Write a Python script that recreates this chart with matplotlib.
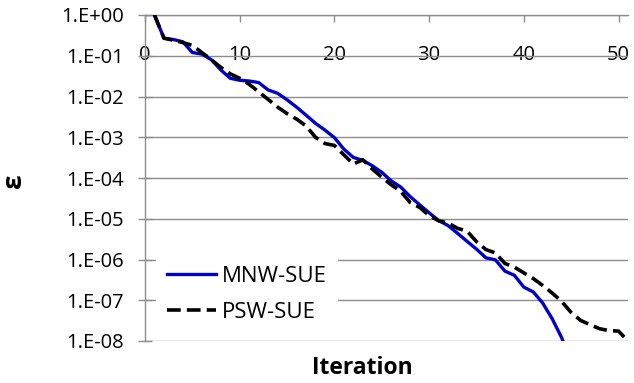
import numpy as np
import matplotlib
matplotlib.use("Agg")
import matplotlib.pyplot as plt
from matplotlib.ticker import FixedLocator, NullLocator

# convergence gap per iteration
iters_mnw = list(range(1, 46))
gap_mnw = [1.0, 0.27, 0.25, 0.22, 0.12, 0.11, 0.08, 0.045, 0.028, 0.025,
           0.024, 0.022, 0.0145, 0.012, 0.0083, 0.0055, 0.0035, 0.0022, 0.0015, 0.00098,
           0.00051, 0.00032, 0.00027, 0.0002, 0.000138, 8.5e-5, 6e-5, 3.5e-5, 2.2e-5, 1.4e-5,
           9.1e-6, 6.8e-6, 4.4e-6, 2.8e-6, 1.8e-6, 1.1e-6, 9.8e-7, 5.2e-7, 4.1e-7, 2.1e-7,
           1.6e-7, 8.5e-8, 3.5e-8, 1.2e-8, 3e-9]

iters_psw = list(range(1, 52))
gap_psw = [1.0, 0.27, 0.24, 0.21, 0.18, 0.12, 0.08, 0.052, 0.036, 0.028,
           0.02, 0.013, 0.0085, 0.0055, 0.0038, 0.0028, 0.0019, 0.001, 0.0007, 0.00063,
           0.00037, 0.00022, 0.00028, 0.000166, 0.000105, 6.8e-5, 4.7e-5, 2.5e-5, 1.9e-5, 1.2e-5,
           8.9e-6, 7.9e-6, 5.8e-6, 5e-6, 2.75e-6, 1.75e-6, 1.45e-6, 8e-7, 6.5e-7, 4.7e-7,
           3.4e-7, 2.3e-7, 1.5e-7, 9.3e-8, 5e-8, 3.2e-8, 2.5e-8, 2e-8, 1.8e-8, 1.75e-8,
           1e-8]

xticks = [0, 10, 20, 30, 40, 50]
yticks = [10.0 ** -k for k in range(0, 9)]
ytick_labels = ["1.E+00", "1.E-01", "1.E-02", "1.E-03", "1.E-04",
                "1.E-05", "1.E-06", "1.E-07", "1.E-08"]

plt.rcParams['font.family'] = ['Open Sans', 'DejaVu Sans']
W, H = 634, 383
fig = plt.figure(figsize=(W / 100, H / 100), dpi=100)
ax = fig.add_axes([145 / W, 1 - 341 / H, (628 - 145) / W, (341 - 15) / H])

grid_c = '#8c8c8c'
ax.plot(iters_mnw, gap_mnw, color='#0000cc', lw=2.4, label='MNW-SUE', zorder=3)
ax.plot(iters_psw, gap_psw, color='black', lw=2.6, ls=(0, (3.8, 1.7)),
        label='PSW-SUE', zorder=3)

ax.set_yscale('log')
ax.set_ylim(1e-8, 1)
ax.set_xlim(0, 51)

ax.yaxis.set_major_locator(FixedLocator(yticks))
ax.yaxis.set_minor_locator(NullLocator())
ax.set_yticklabels(ytick_labels)
ax.grid(axis='y', color=grid_c, lw=1.0)

ax.set_xticks(xticks)
ax.xaxis.tick_top()
ax.tick_params(axis='x', direction='in', length=5, width=1, color=grid_c,
               labelsize=14.5, pad=-36)
ax.tick_params(axis='y', direction='inout', length=10, width=1, color=grid_c,
               labelsize=14.5, pad=10)

for s in ['right', 'bottom']:
    ax.spines[s].set_visible(False)
for s in ['left', 'top']:
    ax.spines[s].set_color(grid_c)
    ax.spines[s].set_linewidth(1.0)

leg = ax.legend(loc='upper left', bbox_to_anchor=(156 / W, 1 - 255 / H),
                bbox_transform=fig.transFigure, fontsize=16, frameon=True,
                fancybox=False, borderaxespad=0, borderpad=0.5,
                handlelength=2.2, handletextpad=0.25, labelspacing=0.65)
leg.get_frame().set_facecolor('white')
leg.get_frame().set_edgecolor('none')
leg.get_frame().set_alpha(1)
leg.set_zorder(5)

fig.text(13 / W, 1 - 181 / H, 'ε', rotation=90, fontsize=19, fontweight='bold',
         ha='center', va='center')
fig.text(362 / W, 1 - 368 / H, 'Iteration', fontsize=16.5, fontweight='bold',
         ha='center', va='center')

fig.savefig('out.png', dpi=100)
